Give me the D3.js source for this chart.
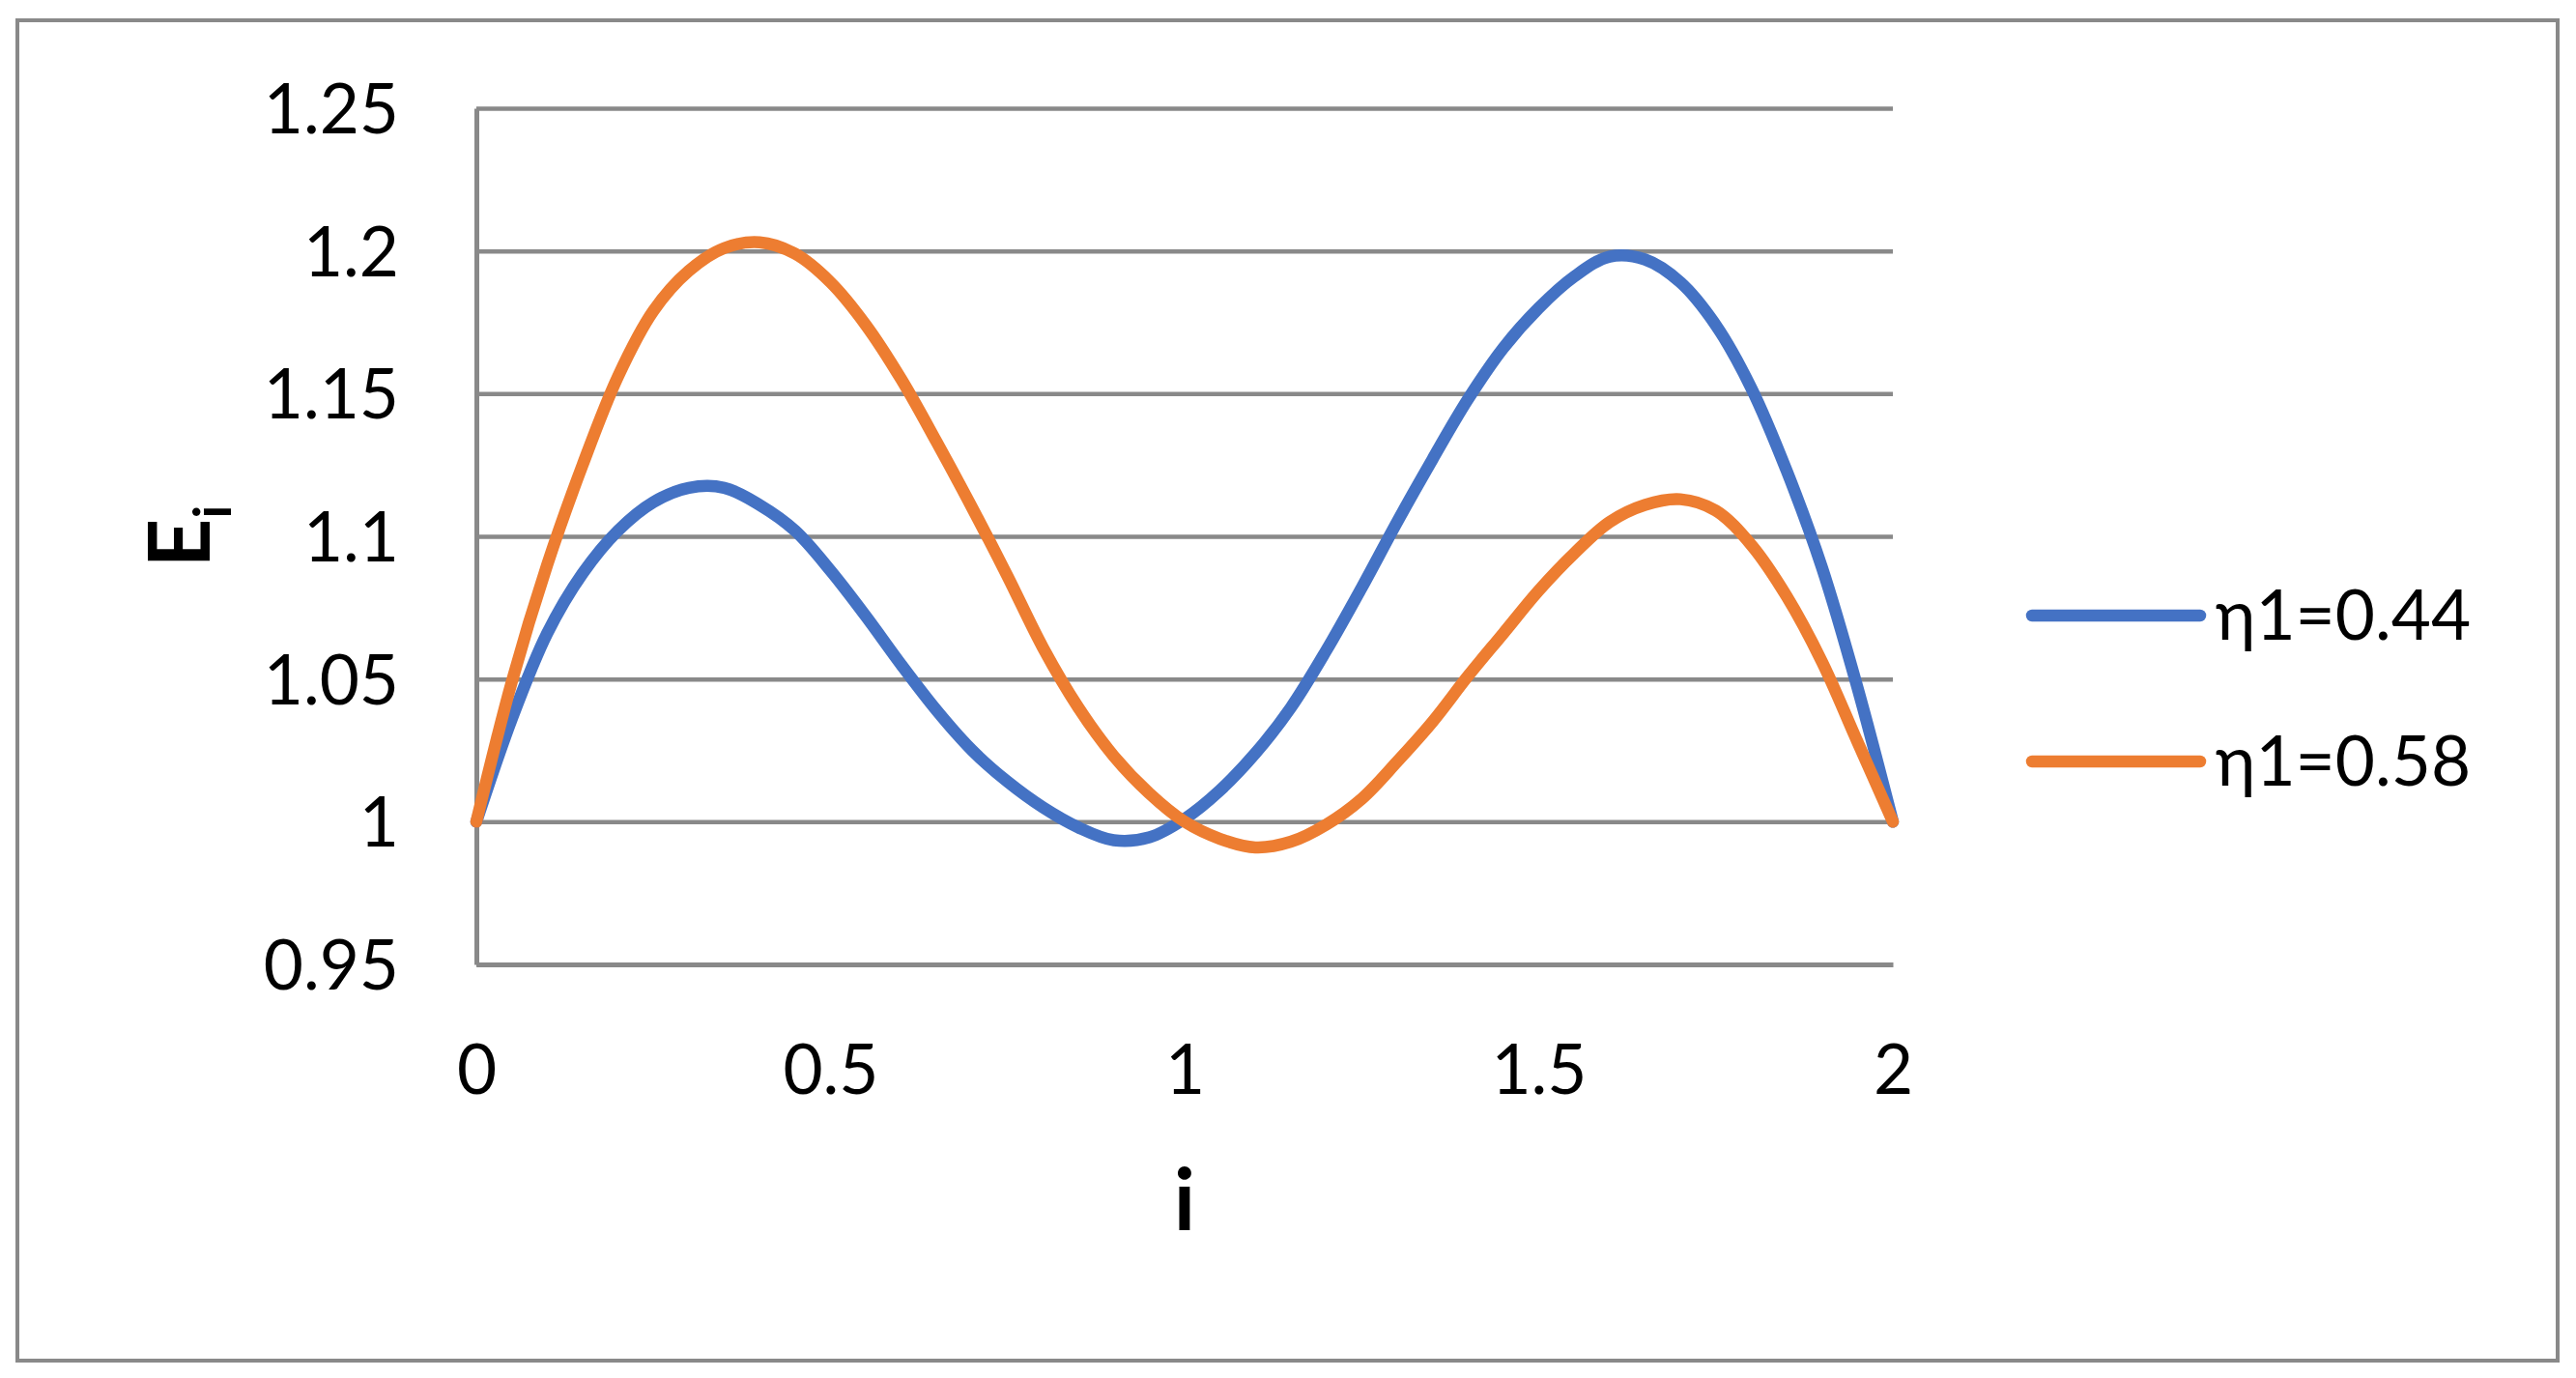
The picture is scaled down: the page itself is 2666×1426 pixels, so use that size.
<!DOCTYPE html>
<html>
<head>
<meta charset="utf-8">
<script src="https://cdn.jsdelivr.net/npm/d3@7"></script>
<style>
  html, body { margin: 0; padding: 0; background: #ffffff; }
  svg { display: block; }
</style>
</head>
<body>
<div id="chart"></div>
<script>
// ---------------- data ----------------
const iValues = [0, 0.05, 0.1, 0.15, 0.2, 0.25, 0.3, 0.35, 0.4, 0.45, 0.5, 0.55, 0.6, 0.65, 0.7, 0.75, 0.8, 0.85, 0.9, 0.95,
                 1, 1.05, 1.1, 1.15, 1.2, 1.25, 1.3, 1.35, 1.4, 1.45, 1.5, 1.55, 1.6, 1.65, 1.7, 1.75, 1.8, 1.85, 1.9, 1.95, 2];

const seriesNames = ["η1=0.44", "η1=0.58"];

const eta044 = [1.000, 1.036, 1.066, 1.087, 1.102, 1.112, 1.117, 1.117, 1.111, 1.102, 1.088, 1.072, 1.055, 1.039, 1.025, 1.014, 1.005, 0.998, 0.9935, 0.9945,
                1.001, 1.011, 1.024, 1.040, 1.060, 1.082, 1.105, 1.127, 1.148, 1.166, 1.180, 1.191, 1.198, 1.197, 1.189, 1.174, 1.152, 1.123, 1.089, 1.047, 1.000];

const eta058 = [1.000, 1.049, 1.090, 1.125, 1.156, 1.179, 1.193, 1.201, 1.203, 1.199, 1.189, 1.174, 1.155, 1.133, 1.110, 1.086, 1.061, 1.040, 1.023, 1.010,
                1.000, 0.994, 0.991, 0.993, 0.999, 1.008, 1.021, 1.035, 1.051, 1.066, 1.081, 1.094, 1.105, 1.111, 1.113, 1.109, 1.097, 1.079, 1.056, 1.028, 1.000];

const xTicks = [0, 0.5, 1, 1.5, 2];
const xTickLabels = ["0", "0.5", "1", "1.5", "2"];
const yTicks = [0.95, 1, 1.05, 1.1, 1.15, 1.2, 1.25];
const yTickLabels = ["0.95", "1", "1.05", "1.1", "1.15", "1.2", "1.25"];

const xTitle = "i";
const yTitleMain = "E";
const yTitleSub = "i";

// ---------------- layout ----------------
const W = 2666, H = 1426;
const plot = { left: 493, right: 1959, top: 112, bottom: 998 };
const colors = ["#4472C4", "#ED7D31"];
const gridColor = "#898989";
const fontFamily = "Lato, 'Open Sans', 'Noto Sans', 'DejaVu Sans', sans-serif";

const svg = d3.select("#chart").append("svg")
  .attr("width", W).attr("height", H)
  .attr("viewBox", `0 0 ${W} ${H}`);

svg.append("rect").attr("x", 0).attr("y", 0).attr("width", W).attr("height", H).attr("fill", "#ffffff");

// outer chart border
svg.append("rect")
  .attr("x", 18).attr("y", 21)
  .attr("width", 2629).attr("height", 1387)
  .attr("fill", "none")
  .attr("stroke", gridColor)
  .attr("stroke-width", 4);

const x = d3.scaleLinear().domain([0, 2]).range([plot.left, plot.right]);
const y = d3.scaleLinear().domain([0.95, 1.25]).range([plot.bottom, plot.top]);

// y axis with gridlines
const yAxis = d3.axisLeft(y)
  .tickValues(yTicks)
  .tickFormat((d, i) => yTickLabels[i])
  .tickSizeInner(-(plot.right - plot.left))
  .tickSizeOuter(0)
  .tickPadding(80);

const gy = svg.append("g")
  .attr("transform", `translate(${plot.left},0)`)
  .call(yAxis);
gy.selectAll(".tick line").attr("stroke", gridColor).attr("stroke-width", 4.5);
gy.select(".domain").attr("stroke", gridColor).attr("stroke-width", 5);
gy.selectAll(".tick text")
  .attr("font-family", fontFamily)
  .attr("font-size", 71)
  .attr("fill", "#000000")
  .attr("dy", "0.36em");
gy.attr("font-family", null).attr("font-size", null);

// x axis
const xAxis = d3.axisBottom(x)
  .tickValues(xTicks)
  .tickFormat((d, i) => xTickLabels[i])
  .tickSizeInner(0)
  .tickSizeOuter(0)
  .tickPadding(84);

const gx = svg.append("g")
  .attr("transform", `translate(0,${plot.bottom})`)
  .call(xAxis);
gx.select(".domain").attr("stroke", gridColor).attr("stroke-width", 5);
gx.selectAll(".tick text")
  .attr("font-family", fontFamily)
  .attr("font-size", 71)
  .attr("fill", "#000000");
gx.attr("font-family", null).attr("font-size", null);

// lines
const seriesData = [eta044, eta058];
const line = d3.line()
  .x((d, i) => x(iValues[i]))
  .y(d => y(d))
  .curve(d3.curveCatmullRom.alpha(0.5));

svg.append("g").selectAll("path")
  .data(seriesData)
  .join("path")
  .attr("d", d => line(d))
  .attr("fill", "none")
  .attr("stroke", (d, i) => colors[i])
  .attr("stroke-width", 12.5)
  .attr("stroke-linecap", "round")
  .attr("stroke-linejoin", "round");

// axis titles
svg.append("text")
  .attr("x", (plot.left + plot.right) / 2)
  .attr("y", 1273)
  .attr("text-anchor", "middle")
  .attr("font-family", fontFamily)
  .attr("font-weight", "bold")
  .attr("font-size", 88)
  .attr("fill", "#000000")
  .text(xTitle);

const yt = svg.append("text")
  .attr("transform", `translate(217,${(plot.top + plot.bottom) / 2}) rotate(-90)`)
  .attr("text-anchor", "middle")
  .attr("font-family", fontFamily)
  .attr("font-weight", "bold")
  .attr("fill", "#000000");
yt.append("tspan").attr("font-size", 88).text(yTitleMain);
yt.append("tspan").attr("font-size", 54).attr("dy", 22).text(yTitleSub);

// legend
const legendY = [637, 788];
const legend = svg.append("g").selectAll("g")
  .data(seriesNames)
  .join("g")
  .attr("transform", (d, i) => `translate(0,${legendY[i]})`);
legend.append("line")
  .attr("x1", 2103).attr("x2", 2277)
  .attr("y1", 0).attr("y2", 0)
  .attr("stroke", (d, i) => colors[i])
  .attr("stroke-width", 12.5)
  .attr("stroke-linecap", "round");
legend.append("text")
  .attr("x", 2293)
  .attr("y", 25)
  .attr("font-family", fontFamily)
  .attr("font-size", 71)
  .attr("fill", "#000000")
  .text(d => d);
</script>
</body>
</html>
